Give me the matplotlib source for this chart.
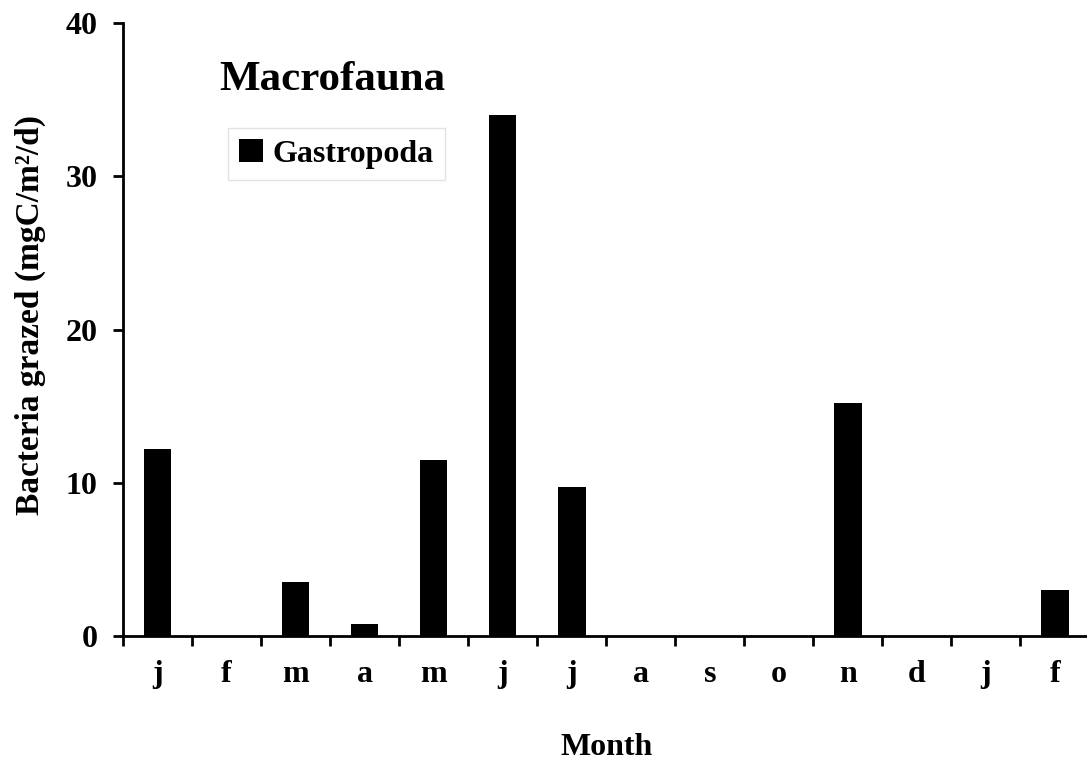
import numpy as np
import matplotlib
matplotlib.use('Agg')
import matplotlib.pyplot as plt

months = ['j', 'f', 'm', 'a', 'm', 'j', 'j', 'a', 's', 'o', 'n', 'd', 'j', 'f']
gastropoda = [12.2, 0, 3.5, 0.8, 11.5, 34.0, 9.7, 0, 0, 0, 15.2, 0, 0, 3.0]

plt.rcParams['font.family'] = ['Liberation Serif', 'DejaVu Serif']
plt.rcParams['font.weight'] = 'bold'

fig = plt.figure(figsize=(10.87, 7.64), dpi=100)
ax = fig.add_axes([0.1132, 0.1675, 0.889, 0.8024])

x = np.arange(len(months))
ax.bar(x + 0.5, gastropoda, width=0.4, color='black', label='Gastropoda')

ax.set_xlim(0, len(months))
ax.set_ylim(0, 40)
ax.set_yticks([0, 10, 20, 30, 40])
ax.set_xticks(x)
ax.set_xticklabels([])
ax.set_xticks(x + 0.5, minor=True)
ax.set_xticklabels(months, minor=True)
ax.tick_params(axis='x', which='major', direction='out', length=7.5, width=2)
ax.tick_params(axis='x', which='minor', length=0, pad=17, labelsize=23)
ax.tick_params(axis='y', direction='out', length=7.5, width=2, labelsize=23, pad=11)
for lab in ax.get_xticklabels(minor=True) + ax.get_yticklabels():
    lab.set_fontweight('bold')

for s in ['top', 'right']:
    ax.spines[s].set_visible(False)
for s in ['left', 'bottom']:
    ax.spines[s].set_linewidth(2)

ax.set_xlabel('Month', fontsize=23, fontweight='bold', labelpad=32)
ax.set_ylabel('Bacteria grazed (mgC/m²/d)', fontsize=24, fontweight='bold')
ax.yaxis.set_label_coords(-0.080, 0.524)

ax.text(0.100, 0.907, 'Macrofauna', transform=ax.transAxes, fontsize=31,
        fontweight='bold', ha='left', va='center')

leg = ax.legend(loc='upper left', bbox_to_anchor=(0.1087, 0.829), borderaxespad=0,
                prop={'size': 23, 'weight': 'bold'}, handlelength=0.75, handleheight=0.75,
                handletextpad=0.3, borderpad=0.35, fancybox=False, frameon=True)
leg.get_frame().set_edgecolor('#dddddd')
leg.get_frame().set_linewidth(1)

plt.savefig('out.png', dpi=100)
plt.close('all')
